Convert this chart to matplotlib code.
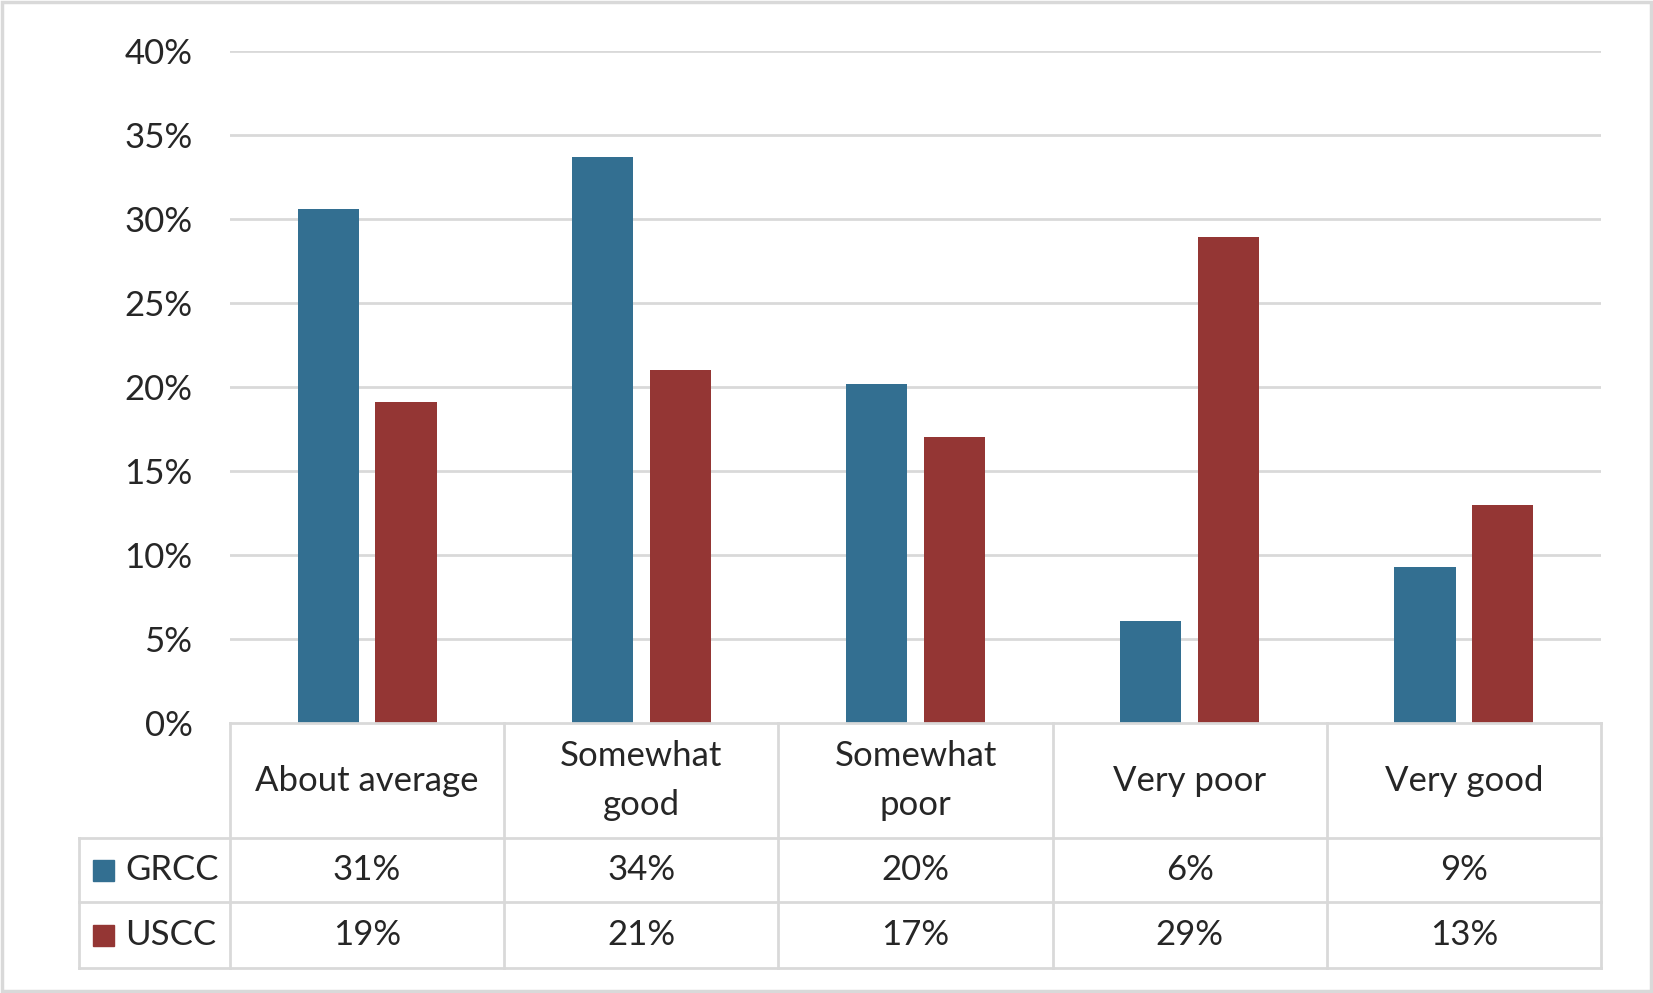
import matplotlib.pyplot as plt
from matplotlib.patches import Rectangle

plt.rcParams['font.family'] = ['Lato', 'DejaVu Sans']

categories = ['About average', 'Somewhat\ngood', 'Somewhat\npoor', 'Very poor', 'Very good']
series = ['GRCC', 'USCC']
grcc = [30.6, 33.7, 20.2, 6.1, 9.3]
uscc = [19.1, 21.0, 17.0, 28.9, 13.0]
yticks = [0, 5, 10, 15, 20, 25, 30, 35, 40]

colors = ['#336f91', '#943634']
grid_c = '#d9d9d9'
text_c = '#262626'
fs = 25

W, H = 1653, 993
fig = plt.figure(figsize=(W / 100, H / 100), dpi=100)

# pixel layout
left, right = 230, 1601
top, base = 51, 723
rows = [723, 838, 902, 968]
leg_left = 79

def fx(px):
    return px / W

def fy(px):
    return 1 - px / H

ax = fig.add_axes([fx(left), fy(base), fx(right - left), fy(top) - fy(base)])
n = len(categories)
x = list(range(n))
bw = 0.223
off = 0.142
ax.bar([i - off for i in x], grcc, bw, color=colors[0], zorder=3)
ax.bar([i + off for i in x], uscc, bw, color=colors[1], zorder=3)
ax.set_xlim(-0.5, n - 0.5)
ax.set_ylim(0, 40)
ax.set_yticks(yticks)
ax.set_yticklabels([f'{t}%' for t in yticks], fontsize=fs, color=text_c)
ax.tick_params(axis='y', length=0, pad=27)
ax.set_xticks([])
for s in ax.spines.values():
    s.set_visible(False)
for t in yticks[1:]:
    ax.axhline(t, color=grid_c, lw=2, zorder=1)

# table below the plot, same x units as the bars
unit = (right - left) / n
tx0 = -0.5 - (left - leg_left) / unit
tab = fig.add_axes([fx(leg_left), fy(rows[-1]), fx(right - leg_left), fy(rows[0]) - fy(rows[-1])])
tab.set_xlim(tx0, n - 0.5)
tab.set_ylim(rows[-1], rows[0])
tab.axis('off')

lw = 2
tab.plot([-0.5, n - 0.5], [rows[0], rows[0]], color=grid_c, lw=lw, clip_on=False)
for r in rows[1:]:
    tab.plot([tx0, n - 0.5], [r, r], color=grid_c, lw=lw, clip_on=False)
for i in range(n + 1):
    tab.plot([i - 0.5, i - 0.5], [rows[0], rows[-1]], color=grid_c, lw=lw, clip_on=False)
tab.plot([tx0, tx0], [rows[1], rows[-1]], color=grid_c, lw=lw, clip_on=False)

for i, c in enumerate(categories):
    tab.text(i, (rows[0] + rows[1]) / 2, c, ha='center', va='center', fontsize=fs,
             color=text_c, linespacing=1.62)

vals = [grcc, uscc]
for k, name in enumerate(series):
    yc = (rows[k + 1] + rows[k + 2]) / 2
    for i in range(n):
        tab.text(i, yc, f'{round(vals[k][i])}%', ha='center', va='center', fontsize=fs, color=text_c)
    sq = 21 / unit
    tab.add_patch(Rectangle((tx0 + 14 / unit, yc - 10.5), sq, 21, color=colors[k], clip_on=False))
    tab.text(tx0 + 46 / unit, yc, name, ha='left', va='center', fontsize=fs, color=text_c)

# outer frame
fig.add_artist(Rectangle((fx(2), fy(991)), fx(W - 4), fy(2) - fy(991), transform=fig.transFigure,
                         fill=False, edgecolor=grid_c, lw=2.5))

fig.savefig('out.png', dpi=100, facecolor='white')
